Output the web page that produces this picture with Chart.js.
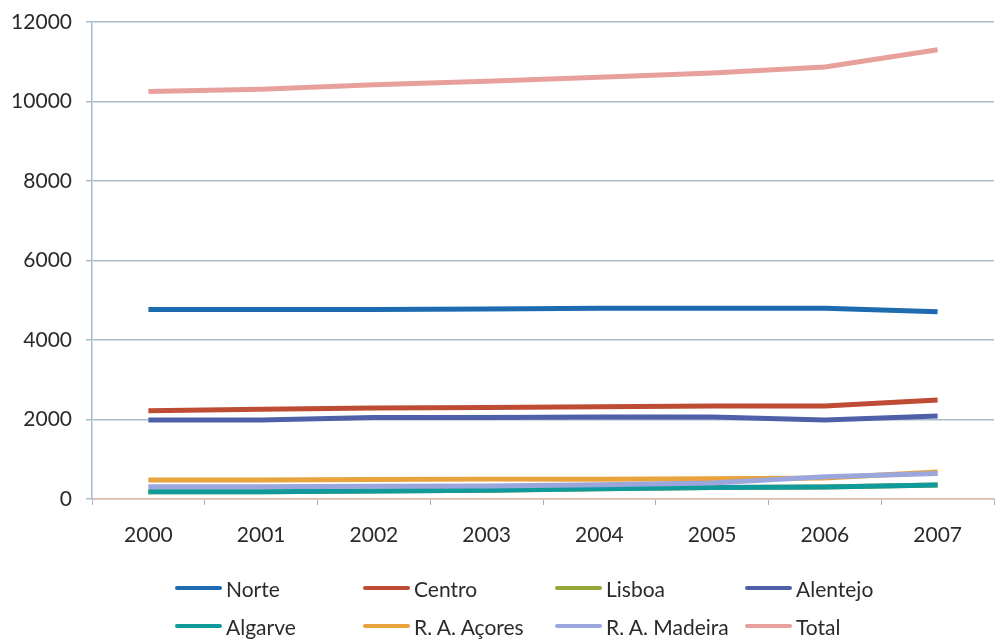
<!DOCTYPE html>
<html>
<head>
<meta charset="utf-8">
<script src="https://cdn.jsdelivr.net/npm/chart.js@4.4.0/dist/chart.umd.min.js"></script>
<style>
  html, body { margin: 0; padding: 0; background: #fff; }
  #wrap { position: relative; width: 997px; height: 641px; }
  #legend {
    position: absolute; left: 175px; top: 574px;
    display: grid; grid-template-columns: 188px 192px 190px 190px;
    row-gap: 10px;
    font-family: Lato, "Open Sans", sans-serif; font-size: 21px; color: #2b2b2b;
  }
  .item { display: flex; align-items: center; height: 28px; white-space: nowrap; }
  .swatch { width: 47px; height: 4px; margin-right: 4px; border-radius: 2px; }
</style>
</head>
<body>
<div id="wrap">
  <canvas id="chart" width="997" height="641"></canvas>
  <div id="legend"></div>
</div>
<script>
// data
const years = ['2000', '2001', '2002', '2003', '2004', '2005', '2006', '2007'];
const norte    = [4770, 4770, 4770, 4780, 4800, 4800, 4800, 4710];
const centro   = [2220, 2260, 2290, 2300, 2320, 2340, 2340, 2490];
const lisboa   = [180, 180, 200, 220, 260, 290, 300, 350];
const alentejo = [1990, 1990, 2050, 2050, 2060, 2060, 1990, 2090];
const algarve  = [180, 180, 200, 220, 260, 290, 300, 350];
const acores   = [480, 480, 490, 500, 500, 510, 530, 680];
const madeira  = [310, 310, 320, 330, 360, 400, 560, 640];
const total    = [10250, 10310, 10420, 10510, 10610, 10720, 10870, 11300];

const seriesNames = ['Norte', 'Centro', 'Lisboa', 'Alentejo', 'Algarve', 'R. A. Açores', 'R. A. Madeira', 'Total'];
const seriesData = [norte, centro, lisboa, alentejo, algarve, acores, madeira, total];
const seriesColors = ['#1f6bb0', '#be4b33', '#94a83a', '#4f5fa8', '#119a9c', '#e8a33d', '#9aa6dc', '#e8a09c'];

const datasets = seriesNames.map((name, i) => ({
    label: name,
    data: seriesData[i],
    borderColor: seriesColors[i],
    backgroundColor: seriesColors[i],
    borderWidth: 5,
    pointRadius: 0,
    tension: 0,
    // excel draws later series on top
    order: seriesNames.length - i
}));

const fontFamily = 'Lato, "Open Sans", sans-serif';

new Chart(document.getElementById('chart'), {
    type: 'line',
    data: { labels: years, datasets: datasets },
    options: {
        responsive: false,
        animation: false,
        layout: { padding: { top: 22, right: 3, bottom: 81, left: 0 } },
        plugins: { legend: { display: false }, tooltip: { enabled: false } },
        scales: {
            x: {
                offset: true,
                grid: {
                    offset: true,
                    drawOnChartArea: false,
                    tickLength: 6,
                    color: '#9fb3c4'
                },
                border: { color: '#e2b9ad', width: 1.5 },
                ticks: { padding: 18, color: '#2b2b2b', font: { family: fontFamily, size: 21 } },
                afterFit: s => { s.height = 61; s.paddingLeft = 0; s.paddingRight = 0; }
            },
            y: {
                min: 0, max: 12000,
                ticks: {
                    stepSize: 2000, padding: 14, color: '#2b2b2b',
                    font: { family: fontFamily, size: 21 },
                    callback: v => String(v)
                },
                grid: { color: '#a9bccb', lineWidth: 1.5, tickLength: 6 },
                border: { color: '#a9bccb', width: 1.5 },
                afterFit: s => { s.width = 92; s.paddingTop = 0; s.paddingBottom = 0; }
            }
        }
    }
});

// legend in a fixed 4-column grid, like the original
const legend = document.getElementById('legend');
seriesNames.forEach((name, i) => {
    const item = document.createElement('div');
    item.className = 'item';
    item.innerHTML = `<span class="swatch" style="background:${seriesColors[i]}"></span>${name}`;
    legend.appendChild(item);
});
</script>
</body>
</html>
